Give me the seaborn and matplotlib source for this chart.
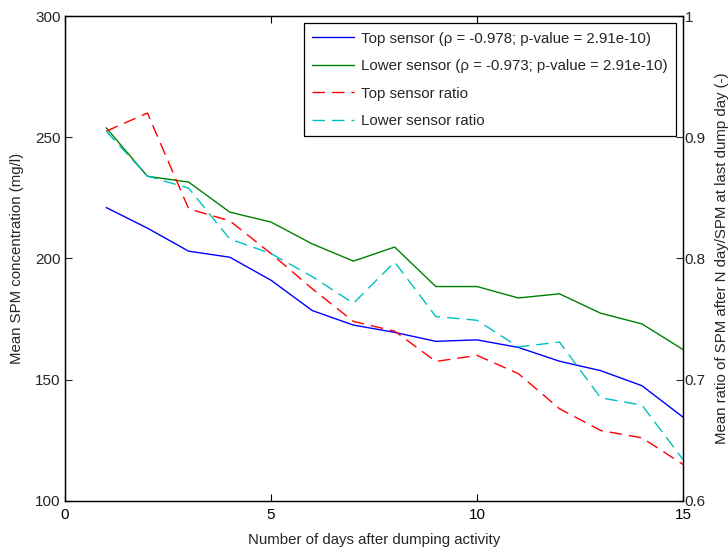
import matplotlib
matplotlib.use("Agg")
import matplotlib.pyplot as plt
import seaborn as sns
import pandas as pd

days = list(range(1, 16))
top_spm = [221, 212.5, 203, 200.5, 191, 178.5, 172.5, 169.5, 165.8, 166.4, 163.3, 157.6, 153.7, 147.5, 134.5]
lower_spm = [253.9, 233.9, 231.5, 219.1, 215, 206, 198.9, 204.7, 188.4, 188.4, 183.7, 185.4, 177.4, 173, 162.4]
top_ratio = [0.905, 0.920, 0.841, 0.831, 0.804, 0.775, 0.748, 0.740, 0.715, 0.720, 0.705, 0.676, 0.658, 0.652, 0.630]
lower_ratio = [0.905, 0.868, 0.858, 0.816, 0.804, 0.785, 0.763, 0.797, 0.752, 0.749, 0.727, 0.731, 0.685, 0.679, 0.634]

top_label = 'Top sensor (\u03c1 = -0.978; p-value = 2.91e-10)'
lower_label = 'Lower sensor (\u03c1 = -0.973; p-value = 2.91e-10)'

df = pd.DataFrame({'day': days, 'top': top_spm, 'lower': lower_spm,
                   'top_r': top_ratio, 'lower_r': lower_ratio})

sns.set_style('white')
plt.rcParams['font.family'] = ['Liberation Sans', 'DejaVu Sans']

fig = plt.figure(figsize=(7.28, 5.54), dpi=100)
ax = fig.add_axes([0.0893, 0.096, 0.849, 0.875])
ax2 = ax.twinx()

sns.lineplot(data=df, x='day', y='top', ax=ax, color='#0000ff', lw=1, label=top_label, legend=False)
sns.lineplot(data=df, x='day', y='lower', ax=ax, color='#008000', lw=1, label=lower_label, legend=False)
sns.lineplot(data=df, x='day', y='top_r', ax=ax2, color='#ff0000', lw=1, label='Top sensor ratio', legend=False)
sns.lineplot(data=df, x='day', y='lower_r', ax=ax2, color='#00bfbf', lw=1, label='Lower sensor ratio', legend=False)
for l in ax2.get_lines():
    l.set_dashes((9, 5))

ax.set_xlim(0, 15)
ax.set_ylim(100, 300)
ax2.set_ylim(0.6, 1)
ax.set_xticks([0, 5, 10, 15])
ax.set_yticks([100, 150, 200, 250, 300])
ax2.set_yticks([0.6, 0.7, 0.8, 0.9, 1])
ax2.set_yticklabels(['0.6', '0.7', '0.8', '0.9', '1'])

ax.tick_params(axis='x', direction='in', length=5, width=0.8, top=True, bottom=True, labelsize=11, pad=5, colors='black')
ax.tick_params(axis='y', direction='in', length=5, width=0.8, left=True, right=False, labelsize=11, pad=3)
ax2.tick_params(axis='y', direction='in', length=5, width=0.8, right=True, left=False, labelsize=11, pad=1)

for a in (ax, ax2):
    for s in a.spines.values():
        s.set_color('black')
        s.set_linewidth(0.9)

ax.set_xlabel('Number of days after dumping activity', fontsize=10.8, labelpad=8)
ax.set_ylabel('Mean SPM concentration (mg/l)', fontsize=10.8, labelpad=8)
ax2.set_ylabel('Mean ratio of SPM after N day/SPM at last dump day (-)', fontsize=10.8, labelpad=7)

h1, l1 = ax.get_legend_handles_labels()
h2, l2 = ax2.get_legend_handles_labels()
leg = ax2.legend(h1 + h2, l1 + l2, loc='upper right', bbox_to_anchor=(0.989, 0.985),
                 borderaxespad=0, fontsize=10.8, frameon=True, fancybox=False, framealpha=1,
                 edgecolor='black', handlelength=2.8, labelspacing=0.9, borderpad=0.55,
                 handletextpad=0.5)
leg.get_frame().set_linewidth(0.9)

fig.savefig('out.png', dpi=100, facecolor='white')
